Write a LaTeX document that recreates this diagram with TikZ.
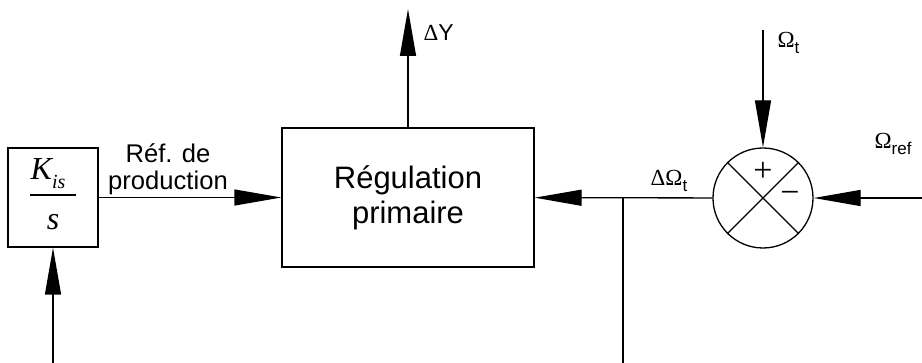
\documentclass[tikz,border=0pt]{standalone}
\usepackage{fontspec}
\setmainfont{Liberation Sans}
\newfontfamily\serifgr{Liberation Serif}
\usetikzlibrary{arrows.meta,positioning}
\newcommand{\lowsub}[1]{\raisebox{-0.5ex}{\fontsize{8.5}{9}\selectfont #1}}
\newcommand{\Om}{{\serifgr Ω}}
\newcommand{\Dl}{{\serifgr Δ}}

\begin{document}
\begin{tikzpicture}[x=0.5pt,y=-0.5pt,line width=0.65pt,
	>={Triangle[length=23.5pt,width=8pt]},
	block/.style={draw,inner sep=0pt},
	sumnode/.style={draw,circle,minimum size=50pt,inner sep=0pt},
	lbl/.style={font=\fontsize{11.5}{12}\selectfont,inner sep=0pt}]
	\useasboundingbox (0,0) rectangle (922,363);

	% Define nodes
	\node[block,minimum width=45pt,minimum height=49.5pt] (K) at (53,197.5) {};
	\node[inner sep=0pt,anchor=base,font=\fontsize{16}{16}\serifgr\itshape] (Knum) at (48,180)
		{K\raisebox{-0.6ex}{\fontsize{10}{10}\serifgr\itshape is}};
	\node[inner sep=0pt,anchor=base,font=\fontsize{16}{16}\serifgr\itshape] (Kden) at (53,230) {s};
	\node[inner sep=0pt,anchor=center] (Kbar) at (53,195) {\rule{23pt}{0.65pt}};
	\node[block,minimum width=126pt,minimum height=69.5pt,align=center,
		font=\fontsize{15.5}{17.5}\selectfont] (R) at (408,197.5) {Régulation\\primaire};
	\node[sumnode] (S) at (763,198) {};
	\node[font=\fontsize{17}{17}\serifgr,inner sep=0pt] (plus) at (763,172) {+};
	\node[font=\fontsize{17}{17}\serifgr,inner sep=0pt] (minus) at (790,197) {−};

	\coordinate (Kin) at (53,363);
	\coordinate (Yout) at (408,9);
	\coordinate (Wt) at (763,30);
	\coordinate (Wref) at (922,198);
	\coordinate (split) at (623,198);
	\coordinate (splitend) at (623,363);

	% Labels
	\node[align=center,inner sep=0pt,font=\fontsize{12.8}{13.5}\selectfont] (reflbl) at (168,169) {Réf. de\\production};
	\node[lbl,anchor=west] (Ylbl) at (423,33) {\Dl Y};
	\node[lbl,anchor=west] (Wtlbl) at (777,43) {\Om\lowsub{t}};
	\node[lbl,anchor=west] (Wreflbl) at (874,144) {\Om\lowsub{ref}};
	\node[lbl,anchor=west] (dWlbl) at (650,181) {\Dl\Om\lowsub{t}};

	% Connect the nodes
	\draw[->] (Kin) -- (K);
	\draw[->] (K) -- (R);
	\draw[->] (R) -- (Yout);
	\draw[->] (Wt) -- (S);
	\draw[->] (Wref) -- (S);
	\draw[->] (S) -- (R);
	\draw (split) -- (splitend);
	\draw (S.north west) -- (S.south east) (S.south west) -- (S.north east);
\end{tikzpicture}
\end{document}
